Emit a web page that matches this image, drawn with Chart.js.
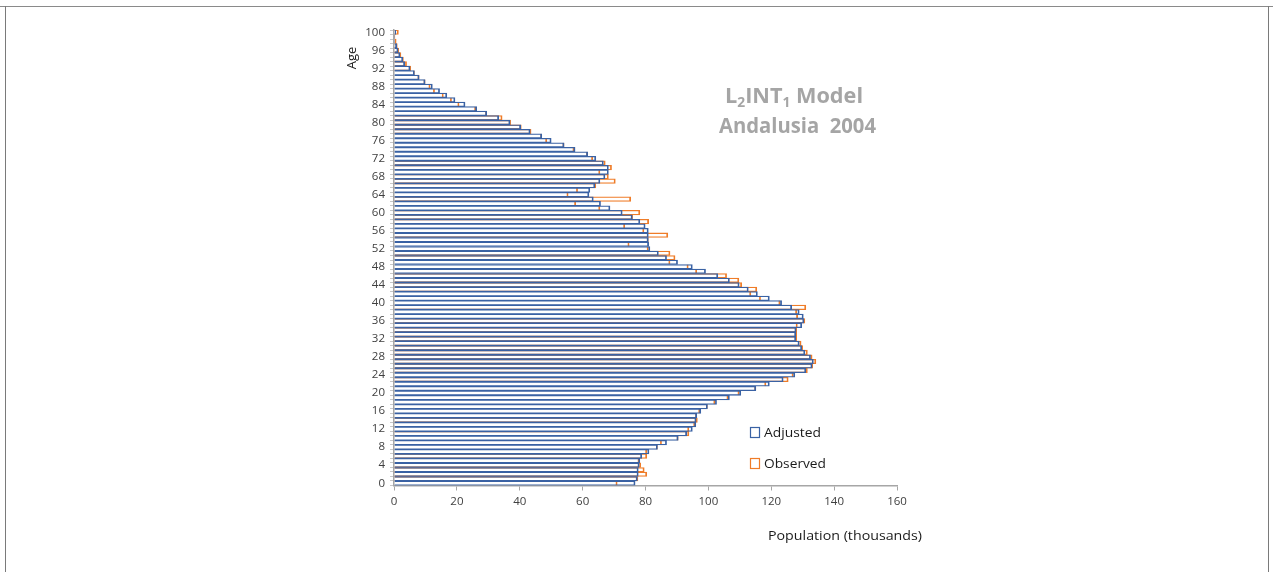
<!DOCTYPE html>
<html>
<head>
<meta charset="utf-8">
<title>Andalusia 2004 population pyramid</title>
<script src="https://cdn.jsdelivr.net/npm/chart.js@4/dist/chart.umd.min.js"></script>
<style>
  html, body { margin: 0; padding: 0; background: #ffffff; }
  #wrap { position: relative; width: 1273px; height: 572px; overflow: hidden; }
  #frameTop { position: absolute; left: 0; top: 6px; width: 1273px; height: 1px; background: #8a8a8a; }
  #frameLeft { position: absolute; left: 5px; top: 6px; width: 1px; height: 580px; background: #7a7a7a; }
  #frameRight { position: absolute; left: 1268px; top: 6px; width: 1px; height: 580px; background: #7a7a7a; }
  canvas { position: absolute; left: 0; top: 0; }
</style>
</head>
<body>
<div id="wrap">
  <canvas id="chart" width="1273" height="572"></canvas>
  <div id="frameTop"></div>
  <div id="frameLeft"></div>
  <div id="frameRight"></div>
</div>
<script>
// Single ages 0..100
const ages = [];
for (let a = 0; a <= 100; a++) ages.push(String(a));

// Population in thousands, fitted by the L2INT1 model (index = age)
const adjusted = [
  76.7, 77.4, 77.7, 77.7, 78.0, 78.2, 78.8, 81.1, 83.8, 86.7,
  90.4, 93.1, 94.9, 96.0, 96.1, 96.3, 97.6, 99.7, 102.6, 106.7,
  110.3, 115.1, 119.4, 123.8, 127.5, 131.0, 133.0, 133.4, 132.5, 130.7,
  129.7, 128.9, 127.8, 127.8, 127.9, 129.7, 130.4, 130.2, 128.9, 126.5,
  123.3, 119.4, 115.6, 112.7, 109.8, 106.7, 103.0, 99.1, 94.9, 90.2,
  86.7, 84.1, 81.4, 81.0, 80.9, 80.9, 80.9, 79.9, 78.2, 75.8,
  72.6, 68.7, 65.7, 63.4, 62.0, 62.3, 63.9, 65.5, 67.1, 68.2,
  68.2, 66.6, 64.2, 61.6, 57.6, 54.1, 50.0, 47.0, 43.3, 40.3,
  36.9, 33.3, 29.5, 26.3, 22.6, 19.4, 16.8, 14.5, 12.2, 9.9,
  8.0, 6.5, 5.1, 3.4, 2.8, 1.9, 1.3, 0.85, 0.2, 0.2,
  0.6
];

// Registered population in thousands (index = age)
const observed = [
  71.0, 77.6, 80.4, 79.6, 78.5, 78.0, 80.4, 80.4, 83.8, 85.1,
  90.4, 93.8, 93.8, 95.7, 96.5, 96.3, 97.3, 99.7, 102.1, 106.3,
  109.8, 115.1, 118.3, 125.4, 127.0, 131.5, 133.2, 134.2, 133.0, 131.5,
  130.0, 129.5, 128.1, 128.1, 128.1, 128.3, 130.7, 128.4, 128.1, 131.0,
  122.8, 116.6, 113.5, 115.4, 110.6, 109.7, 105.8, 96.3, 93.6, 87.8,
  89.4, 87.8, 80.9, 74.8, 80.9, 87.1, 79.5, 73.4, 81.0, 75.9,
  78.2, 65.5, 57.8, 75.3, 55.4, 58.4, 64.2, 70.4, 68.2, 65.5,
  69.2, 67.2, 63.2, 61.6, 57.3, 54.1, 48.6, 47.0, 43.6, 40.5,
  37.1, 34.4, 29.5, 26.0, 20.7, 18.3, 15.7, 12.9, 11.5, 9.9,
  8.0, 6.5, 5.3, 4.0, 3.0, 2.2, 1.5, 1.05, 0.7, 0.3,
  1.4
];

const seriesNames = ['Adjusted', 'Observed'];
const xTicks = [0, 20, 40, 60, 80, 100, 120, 140, 160];

const BLUE = '#3a62a4';
const ORANGE = '#ef7c28';
const TEXT = '#404040';
const AXIS = '#a6a6a6';
const BASE_FONT = "'Open Sans', 'Liberation Sans', sans-serif";
const BAR_EDGES = { top: 0.6, bottom: 0.6, right: 1.1, left: 0 };
const END_ONLY = { top: 0, bottom: 0, right: 1.1, left: 0 };

// Draws text scaled horizontally to a given width
function fitText(ctx, str, x, y, width) {
  const w = ctx.measureText(str).width;
  const sx = width / w;
  ctx.save();
  ctx.translate(x, y);
  ctx.scale(sx, 1);
  ctx.fillText(str, 0, 0);
  ctx.restore();
}

const annotations = {
  id: 'annotations',
  afterDraw(chart) {
    const ctx = chart.ctx;
    ctx.save();

    // Model title with subscripts
    ctx.fillStyle = '#a5a5a5';
    ctx.textBaseline = 'alphabetic';
    ctx.textAlign = 'left';
    const big = "bold 22px " + BASE_FONT;
    const small = "bold 14px " + BASE_FONT;
    const parts = [['L', big, 0], ['2', small, 4], ['INT', big, 0], ['1', small, 4], [' Model', big, 0]];
    let total = 0;
    parts.forEach(p => { ctx.font = p[1]; total += ctx.measureText(p[0]).width; });
    ctx.save();
    ctx.translate(725, 103);
    ctx.scale(138 / total, 1);
    let cx = 0;
    parts.forEach(p => {
      ctx.font = p[1];
      ctx.fillText(p[0], cx, p[2]);
      cx += ctx.measureText(p[0]).width;
    });
    ctx.restore();
    ctx.font = big;
    fitText(ctx, 'Andalusia  2004', 719, 133, 157);

    // Legend
    ctx.font = "13.5px " + BASE_FONT;
    ctx.textBaseline = 'middle';
    const legendRows = [[seriesNames[0], BLUE, 433, 57], [seriesNames[1], ORANGE, 464, 62]];
    legendRows.forEach(r => {
      ctx.strokeStyle = r[1];
      ctx.lineWidth = 1.2;
      ctx.strokeRect(750.5, r[2] - 5.5, 9, 10);
      ctx.fillStyle = '#1a1a1a';
      fitText(ctx, r[0], 764, r[2], r[3]);
    });

    // Axis titles
    ctx.fillStyle = '#1a1a1a';
    ctx.font = "13.5px " + BASE_FONT;
    ctx.textBaseline = 'middle';
    fitText(ctx, 'Population (thousands)', 768, 536, 154);

    ctx.save();
    ctx.translate(352, 58);
    ctx.rotate(-Math.PI / 2);
    ctx.textAlign = 'center';
    ctx.font = "13px " + BASE_FONT;
    ctx.fillText('Age', 0, 0);
    ctx.restore();

    ctx.restore();
  }
};

new Chart(document.getElementById('chart'), {
  type: 'bar',
  data: {
    labels: ages,
    datasets: [
      {
        label: seriesNames[0],
        data: adjusted,
        borderColor: BLUE,
        backgroundColor: 'rgba(255,255,255,0)',
        borderWidth: BAR_EDGES,
        borderSkipped: false,
        barPercentage: 1.0,
        categoryPercentage: 1.0,
        grouped: false
      },
      {
        label: seriesNames[1],
        data: observed,
        borderColor: ORANGE,
        backgroundColor: 'rgba(255,255,255,0)',
        // where the observed bar ends inside the adjusted one only its end edge shows
        borderWidth: (c) => (observed[c.dataIndex] > adjusted[c.dataIndex] ? BAR_EDGES : END_ONLY),
        borderSkipped: false,
        barPercentage: 1.0,
        categoryPercentage: 1.0,
        grouped: false
      }
    ]
  },
  options: {
    indexAxis: 'y',
    responsive: false,
    animation: false,
    layout: { padding: { left: 0, right: 376, top: 30, bottom: 0 } },
    plugins: {
      legend: { display: false },
      tooltip: { enabled: false },
      title: { display: false }
    },
    scales: {
      x: {
        type: 'linear',
        min: 0,
        max: 160,
        afterBuildTicks(scale) { scale.ticks = xTicks.map(v => ({ value: v })); },
        afterFit(scale) { scale.height = 86.5; },
        ticks: {
          color: TEXT,
          font: { size: 11.5, family: BASE_FONT },
          padding: 4
        },
        grid: {
          drawOnChartArea: false,
          drawTicks: true,
          tickLength: 5,
          color: AXIS
        },
        border: { display: true, color: AXIS, width: 1.5 }
      },
      y: {
        type: 'category',
        reverse: true,
        afterFit(scale) { scale.width = 394; },
        ticks: {
          autoSkip: false,
          color: TEXT,
          font: { size: 11.5, family: BASE_FONT },
          padding: 5,
          callback(value) {
            const lab = this.getLabelForValue(value);
            return Number(lab) % 4 === 0 ? lab : '';
          }
        },
        grid: {
          drawOnChartArea: false,
          drawTicks: true,
          tickLength: 4,
          color: '#c8c8c8'
        },
        border: { display: true, color: AXIS, width: 1.5 }
      }
    }
  },
  plugins: [annotations]
});
</script>
</body>
</html>
